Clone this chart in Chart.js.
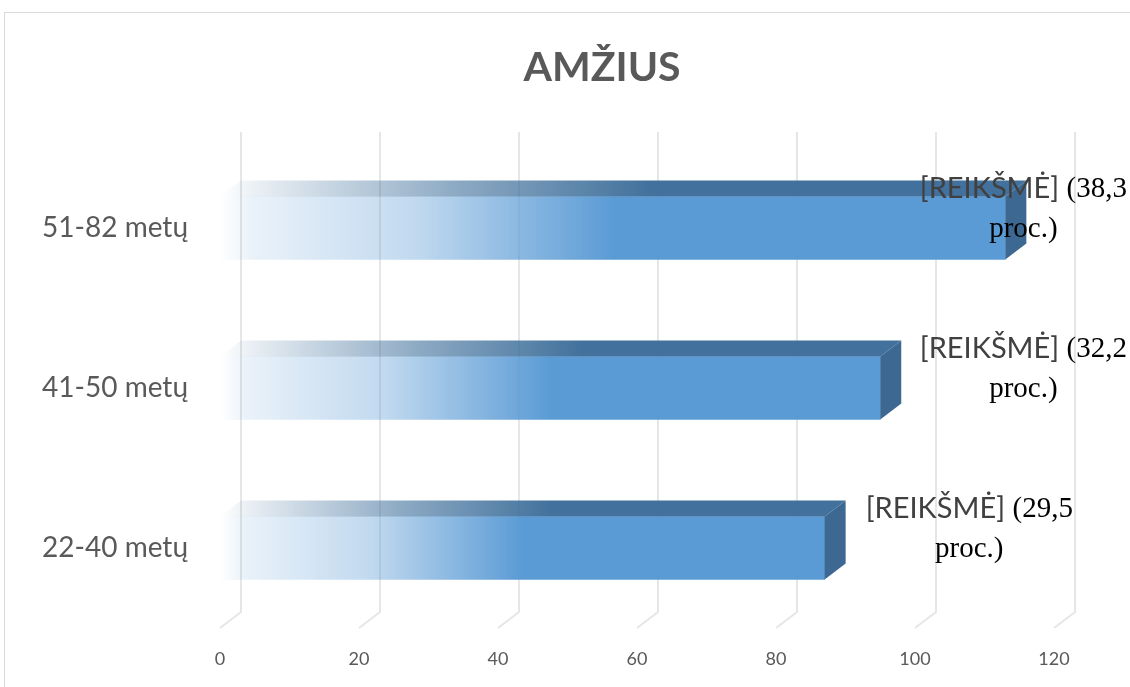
<!DOCTYPE html>
<html>
<head>
<meta charset="utf-8">
<script src="https://cdn.jsdelivr.net/npm/chart.js@4"></script>
<style>
  html, body { margin: 0; padding: 0; background: #fff; overflow: hidden; }
  #wrap { position: relative; width: 1130px; height: 687px; }
  #frame { position: absolute; left: 4px; top: 12px; width: 1140px; height: 700px; border: 1px solid #d9d9d9; }
  canvas { position: absolute; left: 0; top: 0; }
</style>
</head>
<body>
<div id="wrap">
  <div id="frame"></div>
  <canvas id="ageChart" width="1130" height="687"></canvas>
</div>
<script>
// ====== Data ======
const chartTitle = "AMŽIUS";
const categories = ["22-40 metų", "41-50 metų", "51-82 metų"];
const counts = [87, 95, 113];
const percents = ["29,5", "32,2", "38,3"];
const xTicks = [0, 20, 40, 60, 80, 100, 120];

const DX = 21, DY = 16; // 3D depth
const BLUE = "91,155,213";

// front face gradient, fading in from the axis
function frontFill(ctx) {
  const chart = ctx.chart;
  if (!chart.chartArea || ctx.parsed == null) return "rgb(" + BLUE + ")";
  const xs = chart.scales.x;
  const x0 = xs.getPixelForValue(0);
  const x1 = xs.getPixelForValue(ctx.parsed.x);
  const g = chart.ctx.createLinearGradient(x0, 0, x1, 0);
  g.addColorStop(0, "rgba(" + BLUE + ",0)");
  g.addColorStop(0.04, "rgba(" + BLUE + ",0.13)");
  g.addColorStop(0.25, "rgba(" + BLUE + ",0.38)");
  g.addColorStop(0.5, "rgba(" + BLUE + ",1)");
  g.addColorStop(1, "rgba(" + BLUE + ",1)");
  return g;
}

const depthPlugin = {
  id: "depth",
  beforeDatasetsDraw(chart) {
    const c = chart.ctx, xs = chart.scales.x, ca = chart.chartArea;
    c.save();
    c.strokeStyle = "#e6e6e6";
    c.lineWidth = 2;
    xTicks.forEach(v => {
      const x = xs.getPixelForValue(v);
      c.beginPath();
      c.moveTo(x + DX, ca.top - DY);
      c.lineTo(x + DX, ca.bottom - DY);
      c.lineTo(x, ca.bottom);
      c.stroke();
    });
    c.restore();
  },
  afterDatasetsDraw(chart) {
    const c = chart.ctx, xs = chart.scales.x;
    const x0 = xs.getPixelForValue(0);
    chart.getDatasetMeta(0).data.forEach((bar, i) => {
      const x1 = bar.x, top = bar.y - bar.height / 2, bot = bar.y + bar.height / 2;
      // top face
      const g = c.createLinearGradient(x0, 0, x1, 0);
      g.addColorStop(0, "rgba(65,113,156,0)");
      g.addColorStop(0.05, "rgba(65,113,156,0.12)");
      g.addColorStop(0.3, "rgba(65,113,156,0.6)");
      g.addColorStop(0.55, "rgba(65,113,156,1)");
      g.addColorStop(1, "rgba(65,113,156,1)");
      c.save();
      c.fillStyle = g;
      c.beginPath();
      c.moveTo(x0, top);
      c.lineTo(x0 + DX, top - DY);
      c.lineTo(x1 + DX, top - DY);
      c.lineTo(x1, top);
      c.closePath();
      c.fill();
      // side face
      c.fillStyle = "#3d6892";
      c.beginPath();
      c.moveTo(x1, top);
      c.lineTo(x1 + DX, top - DY);
      c.lineTo(x1 + DX, bot - DY);
      c.lineTo(x1, bot);
      c.closePath();
      c.fill();
      c.restore();

      // data label
      const sansFont = "29px Lato";
      const serifFont = "29px 'Liberation Serif'";
      const a = "[REIKŠMĖ] ", b = "(" + percents[i], l2 = "proc.)";
      c.save();
      c.font = sansFont;
      const wa = c.measureText(a).width;
      c.font = serifFont;
      const wb = c.measureText(b).width;
      const w = wa + wb;
      let cx = x1 + DX + 20 + w / 2;
      cx = Math.min(cx, chart.width - 3 - w / 2);
      const y1 = bar.y - 39, y2 = bar.y + 1;
      c.textBaseline = "middle";
      c.textAlign = "left";
      c.font = sansFont;
      c.fillStyle = "#404040";
      c.fillText(a, cx - w / 2, y1);
      c.font = serifFont;
      c.fillStyle = "#000";
      c.fillText(b, cx - w / 2 + wa, y1);
      c.textAlign = "center";
      c.fillText(l2, cx, y2);
      c.restore();
    });
  },
  afterDraw(chart) {
    const c = chart.ctx;
    c.save();
    c.font = "bold 41px Lato";
    c.fillStyle = "#595959";
    c.textAlign = "center";
    c.textBaseline = "middle";
    c.fillText(chartTitle, 602, 68);
    c.restore();
  }
};

new Chart(document.getElementById("ageChart"), {
  type: "bar",
  data: {
    labels: categories,
    datasets: [{
      data: counts,
      backgroundColor: frontFill,
      borderWidth: 0,
      barThickness: 63
    }]
  },
  options: {
    indexAxis: "y",
    responsive: false,
    animation: false,
    layout: { padding: { left: 0, right: 76, top: 148, bottom: 0 } },
    plugins: {
      legend: { display: false },
      tooltip: { enabled: false },
      title: { display: false }
    },
    scales: {
      x: {
        min: 0,
        max: 120,
        afterBuildTicks: s => { s.ticks = xTicks.map(v => ({ value: v })); },
        afterFit: s => { s.height = 59; },
        grid: { display: false, drawTicks: false },
        border: { display: false },
        ticks: { color: "#595959", padding: 20, font: { family: "Lato", size: 18 } }
      },
      y: {
        reverse: true,
        afterFit: s => { s.width = 220; },
        grid: { display: false, drawTicks: false },
        border: { display: false },
        ticks: { color: "#595959", padding: 32, font: { family: "Lato", size: 28 } }
      }
    }
  },
  plugins: [depthPlugin]
});
</script>
</body>
</html>
